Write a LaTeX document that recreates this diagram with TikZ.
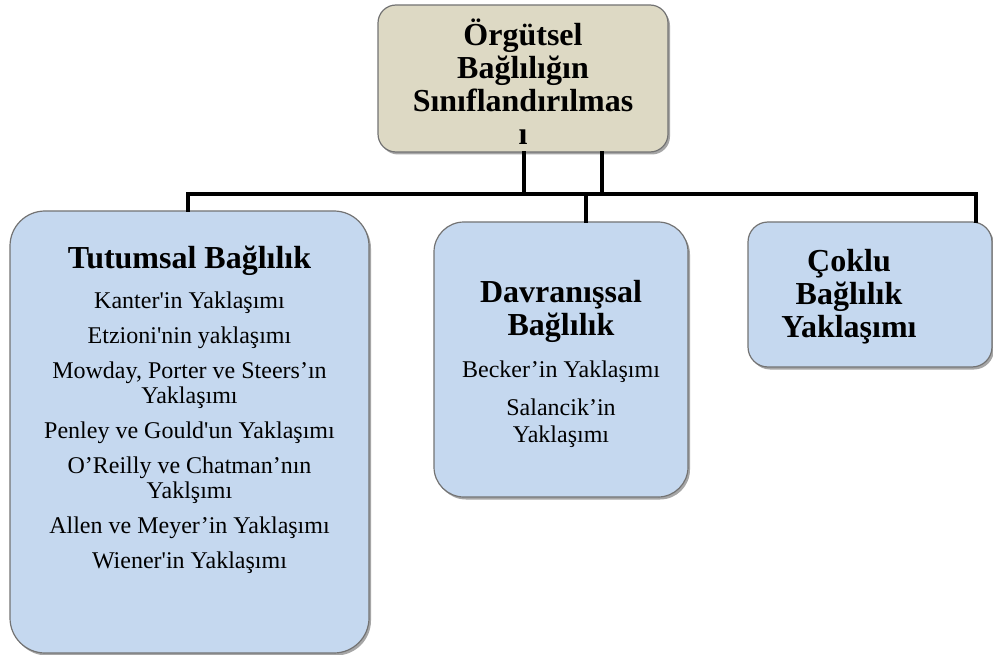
\documentclass[tikz,border=0pt]{standalone}
\usepackage{fontspec}
\setmainfont{Liberation Serif}[Ligatures=TeXOff]
\usetikzlibrary{shadows}
\definecolor{boxblue}{RGB}{197,216,239}
\definecolor{boxbeige}{RGB}{221,217,196}
\definecolor{boxedge}{RGB}{115,115,115}
\newcommand\mytightskip{\lineskiplimit -100pt\relax}
\newcommand\mytxtfont{\fontsize{24}{25}\selectfont\mytightskip}
\newcommand\myttlfont{\fontsize{32}{33}\selectfont\bfseries\mytightskip}
\tikzset{
  box/.style={draw=boxedge, line width=1.2pt, inner sep=0pt,
    drop shadow={shadow xshift=2pt, shadow yshift=-2.5pt, opacity=0.35, fill=black}},
  bluebox/.style={box, fill=boxblue},
  beigebox/.style={box, fill=boxbeige},
  conn/.style={draw=black, line width=3.5pt, line join=miter, line cap=rect},
  txt/.style={align=center, inner sep=0pt, anchor=north, font=\mytxtfont},
  ttl/.style={align=center, inner sep=0pt, anchor=north, font=\myttlfont}
}
\begin{document}
\begin{tikzpicture}[x=1pt,y=-1pt]
\useasboundingbox (0,0) rectangle (993,655);
% boxes
\node[beigebox, rounded corners=18pt, minimum width=290pt, minimum height=147pt] (top) at (523,78.5) {};
\node[bluebox, rounded corners=35pt, minimum width=359pt, minimum height=442pt] (tut) at (189.5,432) {};
\node[bluebox, rounded corners=30pt, minimum width=254pt, minimum height=275pt] (dav) at (561,359.5) {};
\node[bluebox, rounded corners=20pt, minimum width=244pt, minimum height=145pt] (cok) at (870,294.5) {};
% texts
\node[ttl] (toptxt) at (523,18.7) {Örgütsel\\Bağlılığın\\Sınıflandırılmas\\ı};
\node[txt] (tuttxt) at (189.5,246) {{\fontsize{32}{33}\selectfont\bfseries Tutumsal Bağlılık}\\[15pt]
Kanter'in Yaklaşımı\\[10pt]
Etzioni'nin yaklaşımı\\[10pt]
Mowday, Porter ve Steers’ın\\Yaklaşımı\\[10pt]
Penley ve Gould'un Yaklaşımı\\[10pt]
O’Reilly ve Chatman’nın\\Yaklşımı\\[10pt]
Allen ve Meyer’in Yaklaşımı\\[10pt]
Wiener'in Yaklaşımı};
\node[ttl] (davttl) at (561,280) {Davranışsal\\Bağlılık};
\node[txt] (davtxt) at (561,360.6) {Becker’in Yaklaşımı\\[13pt]Salancik’in\\[2pt]Yaklaşımı};
\node[ttl] (coktxt) at (849,249) {Çoklu\\Bağlılık\\Yaklaşımı};
% connectors
\coordinate (j1) at (524,194);
\coordinate (j2) at (602,194);
\coordinate (jL) at (188,194);
\coordinate (jR) at (976,194);
\coordinate (jM) at (586,194);
\draw[conn] (top.south -| j1) -- (j1);
\draw[conn] (top.south -| j2) -- (j2);
\draw[conn] (tut.north -| jL) -- (jL) -- (jR) -- (cok.north -| jR);
\draw[conn] (jM) -- (dav.north -| jM);
\end{tikzpicture}
\end{document}
